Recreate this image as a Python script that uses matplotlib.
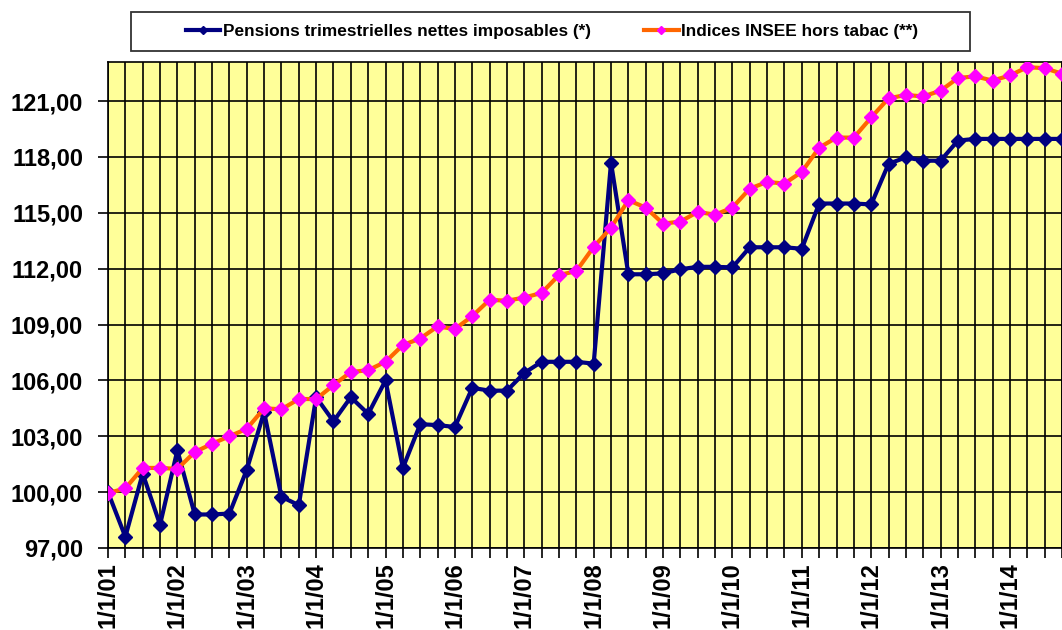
import matplotlib.pyplot as plt
from matplotlib.patches import Rectangle
import numpy as np

plt.rcParams['font.family'] = ['Liberation Sans', 'DejaVu Sans']

# quarterly data, 1/1/01 .. 1/10/14
pensions = [100.0, 97.6, 101.0, 98.25, 102.25, 98.8, 98.8, 98.85,
            101.2, 104.3, 99.75, 99.3, 105.1, 103.8, 105.1, 104.2,
            106.0, 101.3, 103.65, 103.6, 103.5, 105.6, 105.45, 105.45,
            106.4, 107.0, 107.0, 107.0, 106.9, 117.7, 111.7, 111.7,
            111.75, 111.97, 112.1, 112.1, 112.07, 113.15, 113.15, 113.15,
            113.07, 115.5, 115.5, 115.5, 115.45, 117.63, 117.98, 117.8,
            117.8, 118.88, 118.97, 118.97, 118.97, 118.97, 118.97, 118.97]
insee = [99.95, 100.2, 101.3, 101.3, 101.25, 102.15, 102.6, 103.0,
         103.4, 104.5, 104.45, 105.0, 105.0, 105.75, 106.45, 106.55,
         107.0, 107.9, 108.25, 108.9, 108.76, 109.45, 110.33, 110.28,
         110.45, 110.7, 111.66, 111.87, 113.17, 114.2, 115.68, 115.28,
         114.42, 114.53, 115.05, 114.9, 115.28, 116.3, 116.66, 116.57,
         117.2, 118.5, 119.04, 119.04, 120.12, 121.15, 121.33, 121.25,
         121.56, 122.24, 122.33, 122.1, 122.38, 122.82, 122.77, 122.47]
year_labels = ["1/1/%02d" % y for y in range(1, 15)]
y_ticks = [97, 100, 103, 106, 109, 112, 115, 118, 121]

x = np.arange(len(pensions))
W, H = 1062, 630

fig = plt.figure(figsize=(W / 100, H / 100), dpi=100)
ax = fig.add_axes([108 / W, 1 - 548 / H, 954 / W, 486 / H])
ax.set_facecolor('#FFFF99')

ax.plot(x, pensions, color='#000080', lw=3, marker='D', ms=7,
        mfc='#000080', mec='#000080', zorder=3,
        label='Pensions trimestrielles nettes imposables (*)')
ax.plot(x, insee, color='#FF6600', lw=3, marker='D', ms=7,
        mfc='#FF00FF', mec='#FF00FF', zorder=4,
        label='Indices INSEE hors tabac (**)')

ax.set_xlim(0, 55)
ax.set_ylim(97, 123.1)

ax.set_xticks(x)
ax.set_xticklabels([year_labels[i // 4] if i % 4 == 0 else '' for i in x],
                   rotation=90, fontsize=17, fontweight='bold', va='top')
ax.set_yticks(y_ticks)
ax.set_yticklabels(['%d,00' % v for v in y_ticks], fontsize=17, fontweight='bold')
ax.tick_params(axis='both', direction='out', length=7, width=1.2, color='black')
ax.tick_params(axis='y', pad=11)
ax.grid(True, color='black', lw=1.2, zorder=1)
ax.set_axisbelow(True)
for s in ax.spines.values():
    s.set_linewidth(1.2)

# legend box
fig.patches.append(Rectangle((131 / W, 1 - 51 / H), 839 / W, 39 / H,
                             transform=fig.transFigure, fill=True, fc='white',
                             ec='#333333', lw=1.3))
fig.legend(loc='center', bbox_to_anchor=(552 / W, 1 - 31.5 / H),
           ncol=2, frameon=False, prop={'weight': 'bold', 'size': 12.4},
           handlelength=2.0, handletextpad=0.15, columnspacing=3.1,
           markerscale=0.6, borderpad=0, borderaxespad=0)

fig.savefig('out.png', dpi=100)
